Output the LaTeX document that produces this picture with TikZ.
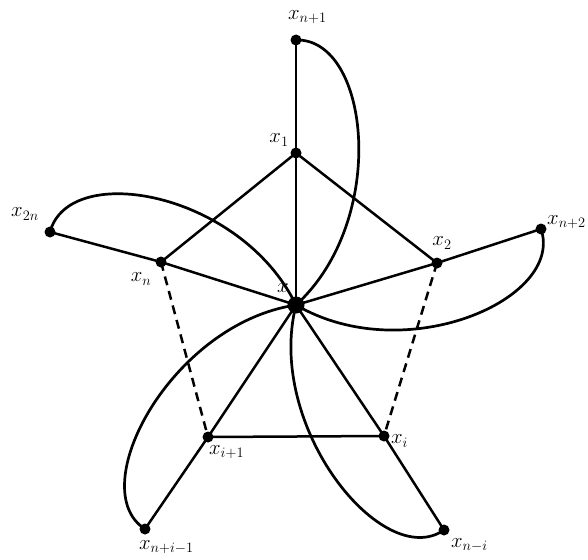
\documentclass[tikz,border=0pt]{standalone}
\usetikzlibrary{calc}
\begin{document}
\begin{tikzpicture}[x=1pt,y=1pt,
  edge/.style={line width=2.5pt},
  dashedge/.style={line width=2.5pt,dash pattern=on 9pt off 6pt},
  petal/.style={line width=2.7pt},
  vtx/.style={circle,fill=black,inner sep=0pt,minimum size=11pt},
  ctr/.style={circle,fill=black,inner sep=0pt,minimum size=17pt},
  lbl/.style={inner sep=0pt,font=\fontsize{21}{25}\selectfont}]
\useasboundingbox (0,0) rectangle (588,-559);
% vertices
\node[ctr] (x) at (296,-305) {};
\node[vtx] (x1) at (296,-153) {};
\node[vtx] (xn1) at (296,-40) {};
\node[vtx] (x2) at (437,-263) {};
\node[vtx] (xn2) at (541,-229) {};
\node[vtx] (xn) at (161,-262) {};
\node[vtx] (x2n) at (50,-232) {};
\node[vtx] (xi1) at (208,-437) {};
\node[vtx] (xni1) at (145,-529) {};
\node[vtx] (xi) at (384,-436) {};
\node[vtx] (xni) at (444,-530) {};
% straight edges
\draw[edge] (x.center) -- (x1.center);
\draw[edge] (x1.center) -- (xn1.center);
\draw[edge] (x1.center) -- (x2.center);
\draw[edge] (x1.center) -- (xn.center);
\draw[edge] (x.center) -- (x2.center);
\draw[edge] (x.center) -- (xn.center);
\draw[edge] (x2.center) -- (xn2.center);
\draw[edge] (xn.center) -- (x2n.center);
\draw[edge] (x.center) -- (xi1.center);
\draw[edge] (x.center) -- (xi.center);
\draw[edge] (xi1.center) -- (xi.center);
\draw[edge] (xi1.center) -- (xni1.center);
\draw[edge] (xi.center) -- (xni.center);
\draw[dashedge] (xn.center) -- (xi1.center);
\draw[dashedge] (x2.center) -- (xi.center);
% petals
\foreach \o/\a in {xn1/90, xn2/17.2, x2n/163.5, xni1/236, xni/-56.7}{
  \draw[petal] (\o.center) .. controls ($(\o.center)+(\a-90:74pt)+(\a:2pt)$)
     and ($(x.center)+(\a:85pt)+(\a-90:93pt)$) .. (x.center);
}
% labels
\node[lbl,anchor=west] (lxn1) at (288,-17) {$x_{n+1}$};
\node[lbl] (lx1) at (279,-140) {$x_1$};
\node[lbl] (lx2n) at (25,-214) {$x_{2n}$};
\node[lbl] (lxn) at (141,-279) {$x_n$};
\node[lbl] (lx) at (283,-288) {$x$};
\node[lbl] (lx2) at (442,-243) {$x_2$};
\node[lbl,anchor=west] (lxn2) at (547,-222) {$x_{n+2}$};
\node[lbl,anchor=west] (lxi1) at (209,-452) {$x_{i+1}$};
\node[lbl,anchor=west] (lxi) at (391,-441) {$x_i$};
\node[lbl,anchor=west] (lxni1) at (139,-547) {$x_{n+i-1}$};
\node[lbl,anchor=west] (lxni) at (451,-545) {$x_{n-i}$};
\end{tikzpicture}
\end{document}
